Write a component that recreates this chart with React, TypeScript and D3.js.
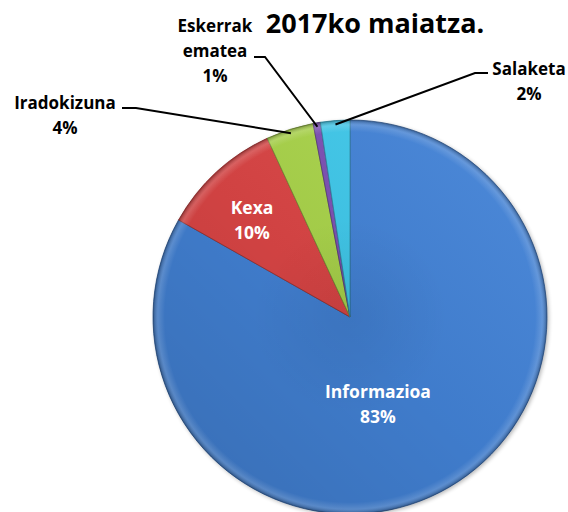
import React from "react";
import * as d3 from "d3";

const categories = ["Informazioa", "Kexa", "Iradokizuna", "Eskerrak ematea", "Salaketa"];
const values = [83.2, 9.9, 3.9, 0.6, 2.4];
const colors = ["#4281d4", "#d94545", "#a8d24a", "#7c50b2", "#3fc6e8"];
const titleText = "2017ko maiatza.";

const W = 568;
const H = 512;
const cx = 350;
const cy = 317;
const R = 197;
const FONT = "'Open Sans', Lato, sans-serif";

// label layout (positions only)
const outsideLabels: Record<number, { x: number; lines: string[]; y0: number; path: [number, number][] }> = {
  2: { x: 65, lines: ["Iradokizuna"], y0: 109, path: [[122, 108], [136, 108]] },
  3: { x: 215, lines: ["Eskerrak", "ematea"], y0: 32, path: [[254, 57], [265, 57]] },
  4: { x: 529, lines: ["Salaketa"], y0: 75, path: [[488, 73], [475, 73]] },
};
const insideLabelPos: Record<number, [number, number]> = {
  0: [378, 398],
  1: [252, 214],
};

export default function App() {
  const pie = d3
    .pie<number>()
    .sort(null)
    .startAngle(0)
    .endAngle(2 * Math.PI)
    .value((d) => d);
  const arcs = pie(values);
  const arc = d3.arc<d3.PieArcDatum<number>>().innerRadius(0).outerRadius(R);
  const total = d3.sum(values);
  const pct = (v: number) => `${Math.round((v / total) * 100)}%`;

  return (
    <svg
      width={W}
      height={H}
      style={{ position: "absolute", left: 0, top: 0, background: "#fff" }}
      fontFamily={FONT}
    >
      <defs>
        <radialGradient id="rim" gradientUnits="userSpaceOnUse" cx={cx} cy={cy} r={R}>
          <stop offset="0" stopColor="#000" stopOpacity="0.06" />
          <stop offset="0.5" stopColor="#000" stopOpacity="0" />
          <stop offset="0.94" stopColor="#fff" stopOpacity="0" />
          <stop offset="0.975" stopColor="#fff" stopOpacity="0.15" />
          <stop offset="1" stopColor="#000" stopOpacity="0.3" />
        </radialGradient>
        <linearGradient id="tone" gradientUnits="userSpaceOnUse" x1={cx + R * 0.7} y1={cy - R * 0.7} x2={cx - R * 0.7} y2={cy + R * 0.7}>
          <stop offset="0" stopColor="#fff" stopOpacity="0.04" />
          <stop offset="0.5" stopColor="#000" stopOpacity="0.04" />
          <stop offset="1" stopColor="#000" stopOpacity="0.12" />
        </linearGradient>
        <filter id="blur" x="-10%" y="-10%" width="120%" height="120%">
          <feGaussianBlur stdDeviation="2" />
        </filter>
      </defs>

      <text x={375} y={33} textAnchor="middle" fontSize={27} fontWeight="bold" fill="#000">
        {titleText}
      </text>

      <g transform={`translate(${cx},${cy})`}>
        <circle cx={1.5} cy={1.5} r={R} fill="#000" opacity={0.3} filter="url(#blur)" />
        {arcs.map((a, i) => (
          <path
            key={i}
            d={arc(a) || ""}
            fill={colors[i]}
            stroke={d3.color(colors[i])!.darker(1.1).formatHex()}
            strokeWidth={0.8}
            strokeLinejoin="round"
          />
        ))}
      </g>
      <circle cx={cx} cy={cy} r={R} fill="url(#tone)" pointerEvents="none" />
      <circle cx={cx} cy={cy} r={R} fill="url(#rim)" pointerEvents="none" />

      {/* leader lines */}
      {arcs.map((a, i) => {
        const lab = outsideLabels[i];
        if (!lab) return null;
        const mid = (a.startAngle + a.endAngle) / 2;
        const px = cx + Math.sin(mid) * (R - 4);
        const py = cy - Math.cos(mid) * (R - 4);
        const pts = [...lab.path, [px, py]] as [number, number][];
        return <path key={`l${i}`} d={d3.line()(pts) || ""} fill="none" stroke="#000" strokeWidth={2} />;
      })}

      {/* outside labels */}
      {arcs.map((a, i) => {
        const lab = outsideLabels[i];
        if (!lab) return null;
        const lines = [...lab.lines, pct(values[i])];
        return (
          <text key={`t${i}`} textAnchor="middle" fontSize={17} fontWeight="bold" fill="#000">
            {lines.map((s, k) => (
              <tspan key={k} x={lab.x} y={lab.y0 + k * 25}>
                {s}
              </tspan>
            ))}
          </text>
        );
      })}

      {/* inside labels */}
      {arcs.map((a, i) => {
        const p = insideLabelPos[i];
        if (!p) return null;
        return (
          <text key={`i${i}`} textAnchor="middle" fontSize={17.5} fontWeight="bold" fill="#fff">
            <tspan x={p[0]} y={p[1]}>
              {categories[i]}
            </tspan>
            <tspan x={p[0]} y={p[1] + 25}>
              {pct(values[i])}
            </tspan>
          </text>
        );
      })}
    </svg>
  );
}
